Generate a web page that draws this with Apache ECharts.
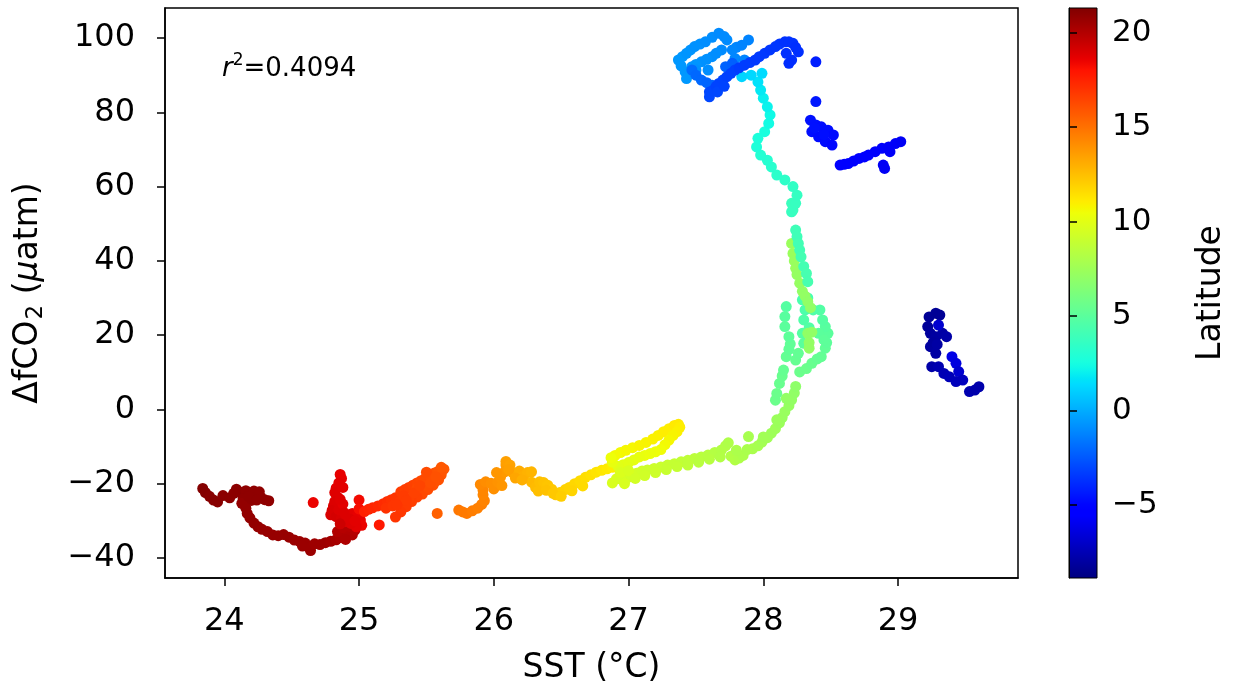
<!DOCTYPE html>
<html>
<head>
<meta charset="utf-8">
<script src="https://cdn.jsdelivr.net/npm/echarts@6/dist/echarts.min.js"></script>
<style>
  html, body { margin: 0; padding: 0; background: #fff; }
  #chart { width: 1234px; height: 690px; }
</style>
</head>
<body>
<div id="chart"></div>
<script>
// each point: [SST (°C), ΔfCO2 (µatm), latitude]
const trackNorth = [
  [23.84,-21.3,21.2],[23.86,-22.4,21.2],[23.89,-23.4,21.1],[23.92,-24.4,21.1],[23.95,-24.9,21.1],
  [23.99,-23.2,21.0],[24.04,-23.8,21.0],[24.09,-21.5,21.0],[24.12,-22.3,21.0],[24.16,-21.9,20.9],
  [24.19,-22.8,20.9],[24.23,-23.0,20.9],[24.27,-23.6,20.9],[24.30,-24.3,20.9],[24.33,-24.6,20.9],
  [24.14,-24.0,20.9],[24.20,-24.5,20.9],[24.13,-25.3,20.8],[24.16,-26.6,20.8],[24.17,-28.0,20.8],
  [24.19,-29.2,20.8],[24.22,-30.6,20.8],[24.25,-31.6,20.8],[24.28,-32.3,20.7],[24.32,-32.9,20.7],
  [24.36,-33.8,20.7],[24.40,-34.0,20.7],[24.44,-33.7,20.7],[24.48,-34.4,20.7],[24.52,-35.2,20.6],
  [24.56,-35.6,20.6],[24.60,-36.0,20.6],[24.63,-37.2,20.6],[24.64,-38.0,20.6],[24.67,-36.2,20.5],
  [24.71,-36.4,20.5],[24.75,-35.9,20.5],[24.79,-35.5,20.4],[24.83,-35.1,20.3],[24.86,-34.5,20.2],
  [24.89,-33.7,20.1],[24.92,-33.2,20.0],[24.95,-33.8,20.0],[24.84,-32.9,20.0],[24.88,-31.8,19.9],
  [24.07,-22.6,21.0],[24.22,-22.0,20.9],[24.26,-22.2,20.9],[24.18,-23.5,20.9],[24.24,-24.4,20.9],
  [24.58,-36.8,20.6],[24.90,-35.0,20.1],[24.93,-31.5,19.9],[24.97,-32.5,19.9]
];
const trackRedColumn = [
  [24.86,-17.5,18.6],[24.87,-18.6,18.6],[24.85,-19.8,18.7],[24.83,-21.2,18.7],[24.82,-22.4,18.8],
  [24.84,-23.6,18.8],[24.82,-24.8,18.9],[24.81,-26.0,18.9],[24.80,-27.2,19.0],[24.79,-28.4,19.0],
  [24.83,-28.9,19.1],[24.87,-29.3,19.0],[24.91,-28.5,18.8],[24.95,-28.0,18.7],[24.99,-28.6,18.6],
  [25.01,-29.8,18.6],[25.02,-31.2,18.5],[24.98,-31.6,18.7],[24.94,-30.7,18.8],[24.90,-30.2,18.9],
  [24.86,-30.8,19.3],[24.85,-27.0,18.9],[24.88,-25.5,18.7],[24.66,-25.1,18.5],[25.00,-24.4,18.3],
  [25.15,-31.1,17.8],[24.88,-21.0,18.7],[24.86,-24.2,18.8],[24.89,-27.8,18.9],[24.93,-29.5,18.9],
  [24.97,-30.0,18.7],[25.00,-26.8,18.2]
];
const trackRedOrange = [
  [25.04,-27.5,17.6],[25.07,-26.9,17.5],[25.10,-26.5,17.4],[25.14,-26.0,17.3],[25.18,-25.4,17.2],
  [25.21,-24.8,17.1],[25.24,-24.3,17.0],[25.27,-23.8,16.9],[25.31,-22.2,16.7],[25.34,-21.6,16.6],
  [25.37,-21.0,16.6],[25.40,-20.4,16.5],[25.43,-19.8,16.4],[25.46,-19.2,16.3],[25.49,-18.6,16.2],
  [25.53,-17.7,16.1],[25.56,-17.1,16.0],[25.59,-16.6,15.9],[25.63,-16.1,15.8],[25.61,-17.6,15.9],
  [25.59,-19.0,16.0],[25.55,-20.4,16.1],[25.51,-21.6,16.2],[25.47,-22.8,16.3],[25.43,-23.6,16.5],
  [25.39,-24.8,16.6],[25.35,-26.2,16.7],[25.31,-27.6,16.8],[25.27,-29.0,16.9],[25.37,-24.0,16.5],
  [25.43,-21.3,16.3],[25.51,-21.0,16.2],[25.56,-19.5,16.0],[25.30,-24.8,16.8],[25.58,-28.0,15.5],
  [25.20,-26.6,17.0],[25.25,-26.0,16.9],[25.33,-23.3,16.7],[25.41,-22.5,16.5],[25.45,-20.5,16.4],
  [25.53,-19.8,16.1],[25.50,-16.9,16.2],[25.57,-18.2,16.0],[25.61,-15.6,15.8],[25.35,-24.5,16.7],
  [25.28,-25.7,16.9]
];
const trackOrange = [
  [25.74,-27.1,14.8],[25.77,-27.6,14.7],[25.80,-28.0,14.7],[25.84,-27.3,14.6],[25.88,-26.6,14.5],
  [25.91,-25.6,14.5],[25.93,-24.6,14.4],[25.92,-23.0,14.3],[25.92,-21.7,14.3],[25.90,-20.2,14.2],
  [25.94,-19.5,14.1],[25.98,-19.9,14.0],[26.00,-21.4,14.0],[26.03,-19.6,13.9],[26.05,-18.2,13.8],
  [26.08,-16.8,13.7],[26.09,-15.0,13.6],[26.09,-14.0,13.5],[26.12,-15.0,13.4],[26.14,-17.0,13.3],
  [26.17,-17.3,13.2],[26.19,-16.6,13.1],[26.22,-18.0,13.0],[26.25,-17.0,12.9],[26.28,-16.8,12.8],
  [26.28,-19.6,12.7],[26.31,-21.0,12.6],[26.34,-19.5,12.5],[26.37,-19.7,12.4],[26.40,-20.4,12.3],
  [26.43,-21.5,12.2],[26.46,-23.0,12.1],[26.49,-22.4,12.0],[26.53,-21.6,11.9],[26.56,-21.0,11.8],
  [26.60,-20.0,11.7],[26.64,-19.2,11.6],[26.68,-18.3,11.5],[26.72,-17.6,11.4],[26.76,-16.9,11.3],
  [26.80,-16.4,11.2],[26.84,-16.0,11.1],[26.88,-15.6,11.0],
  [26.02,-17.0,13.8],[26.06,-20.5,13.8],[26.11,-16.2,13.5],[26.16,-18.5,13.3],[26.21,-19.0,13.0],
  [26.33,-22.0,12.5],[26.39,-21.8,12.4],[26.44,-22.6,12.2],[26.50,-23.4,12.0],[26.58,-21.9,11.8],
  [26.66,-20.6,11.6]
];
const trackLoop = [
  [26.90,-12.4,10.6],[26.94,-11.6,10.6],[26.98,-11.0,10.7],[27.03,-10.3,10.7],[27.08,-9.7,10.8],
  [27.13,-8.9,10.8],[27.18,-8.0,10.9],[27.22,-7.0,10.9],[27.26,-6.0,11.0],[27.30,-5.2,11.0],
  [27.34,-4.3,11.1],[27.37,-4.0,11.1],[27.38,-4.8,11.0],[27.36,-6.0,10.9],[27.33,-7.0,10.8],
  [27.30,-8.3,10.7],[27.27,-9.5,10.6],[27.24,-10.8,10.5],[27.20,-11.4,10.4],[27.16,-11.9,10.3],
  [27.12,-12.4,10.3],[27.08,-12.8,10.2],[27.04,-13.6,10.1],[27.00,-14.3,10.0],[26.96,-14.9,10.0],
  [26.92,-15.3,9.9],[26.88,-14.2,10.2],[26.87,-13.0,10.4]
];
const trackLowerBand = [
  [26.88,-19.8,9.6],[26.91,-18.7,9.6],[26.95,-18.9,9.5],[26.99,-18.4,9.5],[27.02,-17.9,9.4],
  [27.06,-17.2,9.4],[27.10,-16.6,9.3],[27.14,-16.3,9.2],[27.19,-15.9,9.2],[27.24,-15.5,9.1],
  [27.29,-15.0,9.0],[27.34,-14.6,8.9],[27.39,-14.1,8.8],[27.44,-13.7,8.7],[27.49,-13.2,8.6],
  [27.54,-12.8,8.5],[27.59,-12.3,8.4],[27.64,-11.6,8.3],[27.69,-10.9,8.2],[27.72,-9.8,8.2],
  [27.74,-9.0,8.1],[27.76,-12.6,8.2],[27.79,-13.6,8.2],[27.82,-13.1,8.1],[27.85,-12.4,8.0],
  [27.89,-7.3,7.8],[27.92,-10.6,7.9],[27.96,-9.8,7.8],[27.99,-8.8,7.7],[28.03,-7.6,7.6],
  [28.06,-6.4,7.5],[28.09,-5.2,7.5],[28.12,-3.6,7.4],[28.14,-2.2,7.3],[28.16,-0.6,7.3],
  [28.19,1.0,7.2],[28.21,2.6,7.1],[28.23,4.4,7.0],[28.24,6.2,6.9],[26.94,-17.0,9.7],
  [27.00,-16.5,9.6],[26.97,-20.0,9.6],
  [27.05,-18.6,9.4],[27.12,-17.8,9.3],[27.20,-17.0,9.2],[27.28,-16.2,9.0],[27.36,-15.4,8.9],
  [27.44,-15.0,8.7],[27.52,-14.2,8.5],[27.60,-13.4,8.4],[27.68,-12.8,8.2],[27.80,-11.0,8.0],
  [27.88,-10.8,7.9],[28.00,-7.4,7.6],[28.10,-2.8,7.4],[28.17,3.0,7.1]
];
const trackColumn = [
  [28.09,2.5,5.6],[28.10,4.3,5.6],[28.12,7.0,5.5],[28.14,9.0,5.5],[28.15,10.6,5.4],
  [28.17,14.2,5.3],[28.19,16.2,5.2],[28.20,17.6,5.2],[28.19,19.6,5.1],[28.16,22.3,5.0],
  [28.16,25.0,4.9],[28.17,27.7,4.8],[28.24,13.3,5.4],[28.26,15.1,5.3],[28.27,10.1,5.6],
  [28.32,11.0,5.6],[28.36,12.4,5.5],[28.40,13.6,5.4],[28.43,14.2,5.3],[28.46,16.5,5.2],
  [28.47,18.0,5.1],[28.48,20.5,5.0],[28.46,22.3,4.9],[28.44,24.1,4.8],[28.42,26.8,4.7],
  [28.37,26.8,4.6],[28.31,26.8,4.5],[28.29,29.5,4.4],[28.30,24.1,4.6],[28.29,20.5,4.8],
  [28.30,17.8,5.0],[28.41,20.5,5.0],[28.45,18.7,5.1],[28.34,22.0,4.7],[28.33,30.0,4.2]
];
const trackStreak = [
  [28.21,44.7,7.4],[28.22,42.0,7.4],[28.23,40.0,7.3],[28.24,38.0,7.3],[28.25,36.3,7.2],
  [28.27,34.0,7.2],[28.29,31.8,7.1],[28.31,30.5,7.1],[28.33,29.0,7.0],[28.35,27.4,7.0],
  [28.33,20.5,7.0],[28.34,18.0,7.1],[28.36,20.8,7.0],[28.34,16.5,7.1]
];
const trackCyan = [
  [28.21,55.5,3.8],[28.22,53.7,3.8],[28.21,53.2,3.7],[28.24,55.5,3.7],[28.25,57.7,3.6],
  [28.22,60.0,3.5],[28.16,61.8,3.4],[28.10,63.1,3.3],[28.06,65.3,3.2],[28.03,67.1,3.1],
  [27.98,68.5,3.0],[27.95,70.7,2.8],[27.96,73.0,2.7],[28.01,74.8,2.6],[28.04,77.0,2.4],
  [28.05,79.3,2.3],[28.03,81.5,2.1],[28.00,83.8,2.0],[27.98,86.0,1.8],[27.96,88.2,1.6],
  [27.99,90.5,1.4],[27.91,90.0,1.3],[27.84,89.6,1.2],
  [28.24,48.3,4.0],[28.25,46.5,4.0],[28.26,44.7,4.1],[28.27,42.9,4.1],[28.28,41.1,4.2],
  [28.30,38.5,4.2],[28.32,36.6,4.3],[28.33,34.4,4.3]
];
const trackSkyBlue = [
  [27.37,94.1,-0.6],[27.40,95.0,-0.6],[27.43,95.9,-0.7],[27.46,96.8,-0.7],[27.49,97.7,-0.8],
  [27.53,98.4,-0.8],[27.57,99.0,-0.9],[27.62,100.2,-0.9],[27.67,101.3,-1.0],[27.71,100.4,-1.0],
  [27.73,99.5,-1.0],[27.69,96.8,-1.0],[27.65,95.9,-0.9],[27.62,95.0,-0.9],[27.58,94.3,-0.8],
  [27.54,93.6,-0.8],[27.50,92.9,-0.7],[27.47,92.3,-0.7],[27.42,90.9,-0.6],[27.43,89.1,-0.6],
  [27.50,91.4,-0.8],[27.59,91.4,-0.9],[27.77,96.8,-1.1],[27.80,97.5,-1.1],[27.84,98.1,-1.2],
  [27.89,99.5,-1.2],[27.79,94.5,-1.1],[27.86,94.1,-1.2],[27.39,92.5,-0.6]
];
const trackMidBlue = [
  [27.47,91.4,-1.9],[27.50,90.0,-2.0],[27.54,88.7,-2.0],[27.58,88.0,-2.1],[27.62,87.3,-2.1],
  [27.72,92.3,-2.2],[27.77,93.2,-2.3]
];
const trackBlueBand = [
  [27.60,84.2,-3.0],[27.60,85.5,-3.0],[27.63,86.0,-3.0],[27.65,87.0,-3.1],[27.67,87.8,-3.1],
  [27.70,88.7,-3.1],[27.73,89.6,-3.2],[27.76,90.5,-3.2],[27.79,91.4,-3.2],[27.82,92.0,-3.3],
  [27.86,92.7,-3.3],[27.90,93.4,-3.3],[27.94,94.1,-3.4],[27.97,95.0,-3.4],[28.01,95.9,-3.4],
  [28.05,96.8,-3.5],[28.09,97.7,-3.5],[28.12,98.4,-3.5],[28.16,99.0,-3.6],[28.19,99.0,-3.6],
  [28.22,98.6,-3.6],[28.26,96.3,-3.7],[28.21,94.1,-3.7],[28.17,95.9,-3.7],[28.19,93.2,-3.8],
  [28.24,97.5,-3.7],[27.66,85.5,-3.0],[27.71,87.0,-3.1]
];
const trackBlueEast = [
  [28.39,93.6,-4.2],[28.39,82.9,-4.4],[28.35,77.9,-4.6],[28.39,76.6,-4.6],[28.43,76.1,-4.7],
  [28.48,75.2,-4.7],[28.52,73.9,-4.8],[28.36,74.8,-4.7],[28.41,73.4,-4.8],[28.46,72.1,-4.8],
  [28.51,71.2,-4.9],[28.38,75.8,-4.6],[28.45,74.0,-4.7],
  [28.57,65.8,-5.3],[28.60,66.0,-5.3],[28.63,66.2,-5.4],[28.67,66.9,-5.4],[28.71,67.6,-5.5],
  [28.75,68.0,-5.5],[28.78,68.5,-5.5],[28.83,69.4,-5.6],[28.88,70.3,-5.6],[28.93,70.7,-5.7],
  [28.98,71.6,-5.7],[29.02,72.1,-5.8],[28.94,69.4,-5.7],[28.89,65.8,-5.8],[28.90,64.9,-5.8]
];
const trackNavy = [
  [29.23,24.9,-8.3],[29.28,25.9,-8.3],[29.31,25.4,-8.3],[29.22,22.3,-8.2],[29.24,20.5,-8.1],
  [29.28,19.6,-8.0],[29.33,20.5,-7.9],[29.36,19.6,-7.8],[29.30,22.7,-6.8],[29.24,16.9,-8.0],
  [29.28,15.1,-7.9],[29.25,11.5,-7.8],[29.30,11.5,-7.6],[29.34,9.7,-7.5],[29.38,8.8,-7.4],
  [29.40,14.2,-6.2],[29.43,12.4,-6.4],[29.45,10.2,-6.8],[29.48,7.9,-7.2],[29.43,7.5,-7.3],
  [29.53,4.8,-7.6],[29.57,5.2,-7.7],[29.60,6.1,-7.7],[29.26,18.0,-8.1],[29.29,17.5,-7.9]
];

const xTicks = [24, 25, 26, 27, 28, 29];
const yTicks = [-40, -20, 0, 20, 40, 60, 80, 100];
const latTicks = [-5, 0, 5, 10, 15, 20];
const latRange = [-8.86, 21.3];

const allPoints = [].concat(
  trackNorth, trackRedColumn, trackRedOrange, trackOrange, trackLoop, trackLowerBand,
  trackColumn, trackStreak, trackCyan, trackSkyBlue, trackMidBlue, trackBlueBand,
  trackBlueEast, trackNavy
);

// matplotlib "jet"
function lerpSeg(t, segs) {
  for (let i = 1; i < segs.length; i++) {
    if (t <= segs[i][0]) {
      let a = segs[i - 1], b = segs[i];
      return a[1] + (b[1] - a[1]) * (t - a[0]) / (b[0] - a[0]);
    }
  }
  return segs[segs.length - 1][1];
}
function jet(t) {
  let r = lerpSeg(t, [[0, 0], [0.35, 0], [0.66, 1], [0.89, 1], [1, 0.5]]);
  let g = lerpSeg(t, [[0, 0], [0.125, 0], [0.375, 1], [0.64, 1], [0.91, 0], [1, 0]]);
  let b = lerpSeg(t, [[0, 0.5], [0.11, 1], [0.34, 1], [0.65, 0], [1, 0]]);
  return "rgb(" + Math.round(r * 255) + "," + Math.round(g * 255) + "," + Math.round(b * 255) + ")";
}
let jetColors = [];
let barStops = [];
for (let i = 0; i <= 100; i++) {
  jetColors.push(jet(i / 100));
  barStops.push({ offset: i / 100, color: jet(1 - i / 100) });
}

const black = "#000";
const chart = echarts.init(document.getElementById("chart"));

chart.setOption({
  animation: false,
  textStyle: { fontFamily: "DejaVu Sans" },
  grid: [
    {
      left: 165, top: 8, width: 853, height: 570,
      show: true, borderColor: black, borderWidth: 1.5,
      containLabel: false, outerBoundsMode: "none"
    },
    {
      left: 1069, top: 8, width: 28, height: 570,
      show: true, borderColor: black, borderWidth: 1,
      backgroundColor: new echarts.graphic.LinearGradient(0, 0, 0, 1, barStops),
      containLabel: false, outerBoundsMode: "none"
    }
  ],
  xAxis: [
    {
      gridIndex: 0, type: "value", min: 23.56, max: 29.89,
      name: "SST (°C)", nameLocation: "middle", nameGap: 74,
      nameTextStyle: { fontSize: 33, color: black },
      axisLine: { show: true, onZero: false, lineStyle: { color: black, width: 1.5 } },
      axisTick: { show: true, length: 8, lineStyle: { width: 1.5 }, customValues: xTicks },
      axisLabel: { fontSize: 32, color: black, margin: 28, customValues: xTicks },
      splitLine: { show: false }
    },
    { gridIndex: 1, type: "value", show: false, min: 0, max: 1 }
  ],
  yAxis: [
    {
      gridIndex: 0, type: "value", min: -45.4, max: 108.1,
      name: "{a|ΔfCO}{s|2}{a| (}{i|μ}{a|atm)}", nameLocation: "middle", nameGap: 117,
      nameTextStyle: {
        fontSize: 33, color: black,
        rich: {
          a: { fontSize: 33, color: black, lineHeight: 40, verticalAlign: "middle" },
          i: { fontSize: 33, color: black, fontStyle: "italic", lineHeight: 40, verticalAlign: "middle" },
          s: { fontSize: 23, color: black, lineHeight: 40, verticalAlign: "bottom", padding: [0, 0, 0, 1] }
        }
      },
      axisLine: { show: true, onZero: false, lineStyle: { color: black, width: 1.5 } },
      axisTick: { show: true, length: 8, lineStyle: { width: 1.5 }, customValues: yTicks },
      axisLabel: {
        fontSize: 32, color: black, margin: 30, customValues: yTicks,
        formatter: v => String(v).replace("-", "\u2212")
      },
      splitLine: { show: false }
    },
    {
      gridIndex: 1, type: "value", position: "right", min: latRange[0], max: latRange[1],
      name: "Latitude", nameLocation: "middle", nameGap: 98, nameRotate: 90,
      nameTextStyle: { fontSize: 33, color: black },
      axisLine: { show: true, lineStyle: { color: black, width: 1 } },
      axisTick: { show: true, length: 8, lineStyle: { width: 1.5 }, customValues: latTicks },
      axisLabel: {
        fontSize: 31, color: black, margin: 15, customValues: latTicks,
        formatter: v => String(v).replace("-", "\u2212")
      },
      splitLine: { show: false }
    }
  ],
  visualMap: {
    show: false,
    type: "continuous",
    seriesIndex: 0,
    dimension: 2,
    min: latRange[0],
    max: latRange[1],
    inRange: { color: jetColors }
  },
  graphic: [
    {
      type: "text", left: 222, top: 52, silent: true,
      style: {
        text: "{i|r}{sup|2}{a|=0.4094}",
        rich: {
          i: { fontFamily: "DejaVu Sans", fontSize: 26, fontStyle: "italic", fill: black, lineHeight: 30, verticalAlign: "bottom" },
          sup: { fontFamily: "DejaVu Sans", fontSize: 17, fill: black, lineHeight: 30, verticalAlign: "top" },
          a: { fontFamily: "DejaVu Sans", fontSize: 26, fill: black, lineHeight: 30, verticalAlign: "bottom" }
        }
      }
    }
  ],
  series: [
    {
      type: "scatter",
      xAxisIndex: 0,
      yAxisIndex: 0,
      symbol: "circle",
      symbolSize: 11,
      itemStyle: { opacity: 1 },
      data: allPoints
    }
  ]
});
</script>
</body>
</html>
